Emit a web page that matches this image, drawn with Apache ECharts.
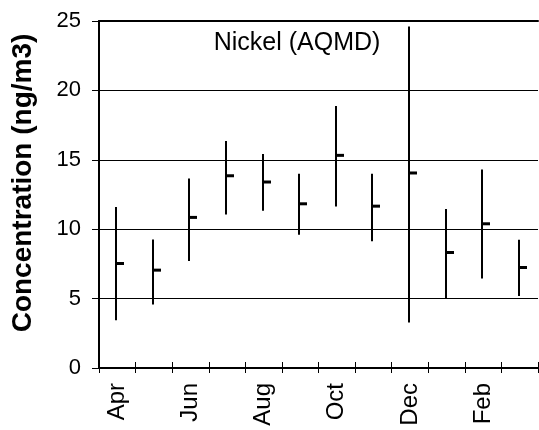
<!DOCTYPE html>
<html>
<head>
<meta charset="utf-8">
<script src="https://cdn.jsdelivr.net/npm/echarts@6/dist/echarts.min.js"></script>
<style>html,body{margin:0;padding:0;background:#fff}#c{width:539px;height:430px}</style>
</head>
<body>
<div id="c"></div>
<script>
var months = ['Apr','May','Jun','Jul','Aug','Sep','Oct','Nov','Dec','Jan','Feb','Mar'];
var highs  = [11.6, 9.26, 13.66, 16.35, 15.42, 14.0, 18.88, 14.0, 24.6, 11.45, 14.31, 9.24];
var lows   = [3.44, 4.57, 7.70, 11.06, 11.33, 9.6, 11.64, 9.14, 3.27, 5.0, 6.45, 5.19];
var means  = [7.53, 7.05, 10.85, 13.85, 13.40, 11.83, 15.32, 11.66, 14.05, 8.32, 10.39, 7.24];
var yTicks = [0, 5, 10, 15, 20, 25];
var titleText = 'Nickel (AQMD)';
var yName = 'Concentration (ng/m3)';

var FONT = '"Liberation Sans", Arial, sans-serif';
var data = months.map(function (m, i) { return [i, lows[i], highs[i], means[i]]; });

function renderItem(params, api) {
  var i = api.value(0);
  var lo = api.coord([i, api.value(1)]);
  var hi = api.coord([i, api.value(2)]);
  var mn = api.coord([i, api.value(3)]);
  var x = Math.round(lo[0]) - 1;
  return {
    type: 'group',
    children: [
      { type: 'line', shape: { x1: x, y1: lo[1], x2: x, y2: hi[1] }, style: { stroke: '#000', lineWidth: 2 } },
      { type: 'line', shape: { x1: x, y1: mn[1], x2: x + 8, y2: mn[1] }, style: { stroke: '#000', lineWidth: 3 } }
    ]
  };
}

var gridPos = { left: 99, right: 1, top: 21, bottom: 62 };
var chart = echarts.init(document.getElementById('c'), null, { renderer: 'canvas' });
chart.setOption({
  animation: false,
  backgroundColor: '#fff',
  grid: [
    Object.assign({ containLabel: false }, gridPos),
    Object.assign({ containLabel: false }, gridPos)
  ],
  xAxis: [
    {
      type: 'category', data: months, gridIndex: 0, position: 'bottom', boundaryGap: true,
      axisLine: { show: true, lineStyle: { color: '#000', width: 2 } },
      axisTick: { show: true, inside: false, length: 5, interval: 0, lineStyle: { color: '#000', width: 1 } },
      axisLabel: { show: true, interval: 1, rotate: 90, margin: 15, color: '#000', fontFamily: FONT, fontSize: 24 },
      splitLine: { show: false }
    },
    {
      type: 'category', data: months, gridIndex: 0, position: 'top', boundaryGap: true,
      axisLine: { show: true, lineStyle: { color: '#000', width: 2 } },
      axisTick: { show: false }, axisLabel: { show: false }, splitLine: { show: false }
    },
    {
      type: 'category', data: months, gridIndex: 1, position: 'bottom', boundaryGap: true,
      axisLine: { show: false },
      axisTick: { show: true, inside: true, length: 6, interval: 0, lineStyle: { color: '#000', width: 1 } },
      axisLabel: { show: false }, splitLine: { show: false }
    }
  ],
  yAxis: [
    {
      type: 'value', gridIndex: 0, min: yTicks[0], max: yTicks[yTicks.length - 1], interval: 5,
      axisLine: { show: true, lineStyle: { color: '#000', width: 2 } },
      axisTick: { show: true, inside: false, length: 7, lineStyle: { color: '#000', width: 1 } },
      axisLabel: { show: true, margin: 18, color: '#000', fontFamily: FONT, fontSize: 22 },
      splitLine: { show: true, lineStyle: { color: '#000', width: 1 } }
    },
    {
      type: 'value', gridIndex: 1, min: yTicks[0], max: yTicks[yTicks.length - 1], interval: 5, show: false
    }
  ],
  graphic: [
    {
      type: 'text', x: 297, y: 43,
      style: { text: titleText, fill: '#000', font: '25px ' + FONT, textAlign: 'center', textVerticalAlign: 'middle' }
    },
    {
      type: 'text', x: 23, y: 183, rotation: Math.PI / 2,
      style: { text: yName, fill: '#000', font: 'bold 28px ' + FONT, textAlign: 'center', textVerticalAlign: 'middle' }
    }
  ],
  series: [
    {
      type: 'custom', xAxisIndex: 0, yAxisIndex: 0, renderItem: renderItem,
      encode: { x: 0, y: [1, 2, 3] }, data: data, silent: true
    }
  ]
});
</script>
</body>
</html>
